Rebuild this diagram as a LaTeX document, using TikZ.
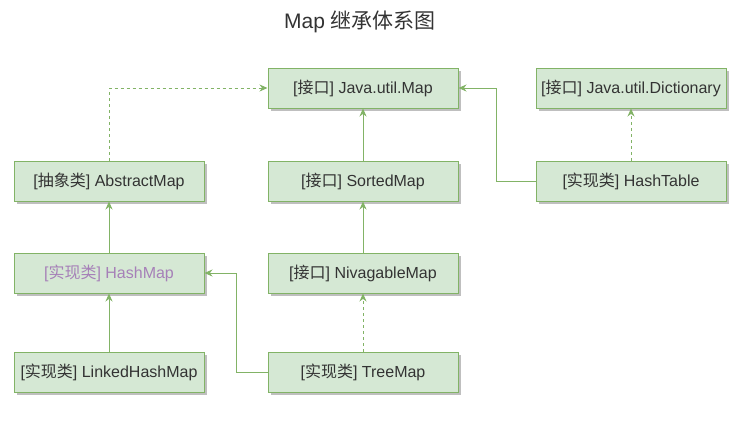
\documentclass[tikz,border=0pt]{standalone}
\usepackage{fontspec}
\setmainfont{Liberation Sans}
\newfontfamily\cjk{Noto Sans CJK SC}
\usetikzlibrary{arrows.meta,shadows}
\definecolor{boxfill}{HTML}{D5E8D4}
\definecolor{boxline}{HTML}{82B366}
\definecolor{boxtext}{HTML}{333333}
\definecolor{purpletext}{HTML}{A680B8}
\newcommand{\zh}[1]{{\cjk #1}}
\tikzset{every picture/.style={line width=0.75pt}}

\begin{document}
\begin{tikzpicture}[x=1pt,y=1pt,yscale=-1,xscale=1,
  mapbox/.style={draw=boxline,fill=boxfill,line width=1pt,minimum width=190pt,minimum height=40pt,inner sep=0pt,
    text=boxtext,font=\fontsize{16}{19}\selectfont,
    drop shadow={shadow xshift=3pt,shadow yshift=-3pt,fill=black!25,opacity=1}},
  link/.style={draw=boxline,line width=1pt,-{Stealth[length=8pt,width=7pt]}},
  impl/.style={link,dash pattern=on 3pt off 3pt}]
\useasboundingbox (0,0) rectangle (741,424);

% Title
\node (title) at (360,22) [text=boxtext,font=\fontsize{21}{24}\selectfont] {Map \zh{继承体系图}};

% Boxes
\node (map) at (363,88) [mapbox] {[\zh{接口}] Java.util.Map};
\node (dictionary) at (631,88) [mapbox] {[\zh{接口}] Java.util.Dictionary};
\node (abstractmap) at (109,181) [mapbox] {[\zh{抽象类}] AbstractMap};
\node (sortedmap) at (363,181) [mapbox] {[\zh{接口}] SortedMap};
\node (hashtable) at (631,181) [mapbox] {[\zh{实现类}] HashTable};
\node (hashmap) at (109,273) [mapbox,text=purpletext] {[\zh{实现类}] HashMap};
\node (nivagablemap) at (363,273) [mapbox] {[\zh{接口}] NivagableMap};
\node (linkedhashmap) at (109,372) [mapbox] {[\zh{实现类}] LinkedHashMap};
\node (treemap) at (363,372) [mapbox] {[\zh{实现类}] TreeMap};

% Connectors
\draw [impl] (abstractmap.north) |- (map.west);
\draw [link] (sortedmap) -- (map);
\draw [link] (hashtable.west) -- ++(-39,0) |- (map.east);
\draw [impl] (hashtable) -- (dictionary);
\draw [link] (hashmap) -- (abstractmap);
\draw [link] (nivagablemap) -- (sortedmap);
\draw [link] (linkedhashmap) -- (hashmap);
\draw [impl] (treemap) -- (nivagablemap);
\draw [link] (treemap.west) -- ++(-31,0) |- (hashmap.east);

\end{tikzpicture}
\end{document}
